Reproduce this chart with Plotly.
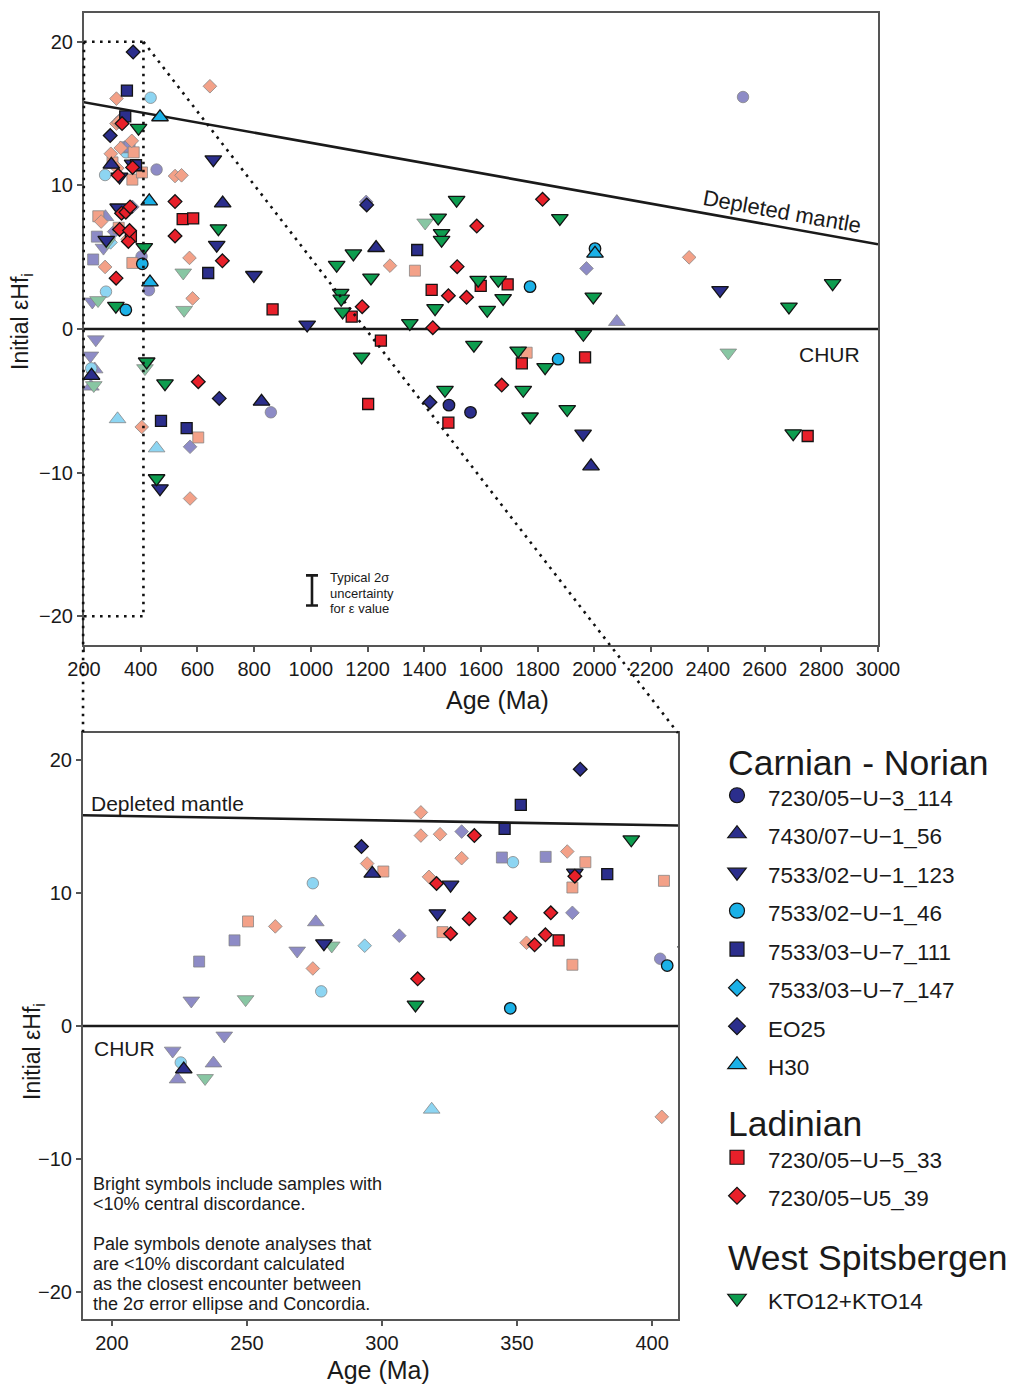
import plotly.graph_objects as go

# ---------------- data (age in Ma, initial eHf) ----------------
u3_114_age = [1487, 1563]
u3_114_eps = [-5.3, -5.8]
u3_114_pale_age = [403, 429, 456, 859, 2524]
u3_114_pale_eps = [5.05, 2.7, 11.1, -5.8, 16.15]

u1_56_age = [226.6, 296.4, 689, 826, 1230, 1988]
u1_56_eps = [-3.25, 11.45, 8.75, -5.05, 5.65, -9.55]
u1_56_pale_age = [224.3, 237.6, 275.5, 2079]
u1_56_pale_eps = [-4.0, -2.8, 7.8, 0.5]

u1_123_age = [278.5, 320.5, 325.4, 371.4, 468, 656, 668, 799, 987, 1960, 2443]
u1_123_eps = [6.2, 8.45, 10.6, 11.5, -11.1, 11.8, 5.85, 3.75, 0.3, -7.3, 2.7]
u1_123_pale_age = [222.5, 229.4, 241.6, 268.6]
u1_123_pale_eps = [-1.86, 1.9, -0.73, 5.65]

u1_46_age = [347.5, 405.6, 1773, 1872, 2002]
u1_46_eps = [1.33, 4.54, 2.95, -2.1, 5.6]
u1_46_pale_age = [225.5, 274.4, 277.5, 348.5, 435]
u1_46_pale_eps = [-2.74, 10.72, 2.6, 12.3, 16.1]

u7_111_age = [345.4, 351.4, 383.4, 471.5, 562, 638, 1375]
u7_111_eps = [14.8, 16.6, 11.4, -6.4, -6.9, 3.9, 5.5]
u7_111_pale_age = [232.3, 245.4, 344.4, 360.6]
u7_111_pale_eps = [4.84, 6.43, 12.65, 12.7]

u7_147_age = []
u7_147_eps = []
u7_147_pale_age = [293.6]
u7_147_pale_eps = [6.03]

eo25_age = [292.4, 373.4, 677, 1197, 1420]
eo25_eps = [13.47, 19.28, -4.83, 8.64, -5.1]
eo25_pale_age = [306.4, 329.5, 370.5, 574, 1195, 1972]
eo25_pale_eps = [6.78, 14.6, 8.5, -8.2, 8.85, 4.22]

h30_age = [430, 432.7, 468, 2002]
h30_eps = [8.9, 3.25, 14.75, 5.25]
h30_pale_age = [318.4, 456]
h30_pale_eps = [-6.27, -8.3]

u5_33_age = [365.4, 548, 585, 865, 1144, 1202, 1247, 1426, 1485, 1599, 1694, 1744, 1967, 2752]
u5_33_eps = [6.43, 7.65, 7.7, 1.37, 0.86, -5.22, -0.81, 2.72, -6.52, 3.0, 3.11, -2.39, -1.97, -7.45]
u5_33_pale_age = [250.4, 300.5, 322.4, 370.5, 370.5, 375.3, 404.4, 603, 1367, 1761]
u5_33_pale_eps = [7.85, 11.6, 7.05, 10.4, 4.6, 12.3, 10.9, -7.55, 4.06, -1.65]

u5_39_age = [313.2, 320.2, 325.4, 332.3, 334.2, 347.5, 356.5, 360.5, 362.5, 371.4, 521, 521,
             603, 688, 1181, 1430, 1485, 1516, 1549, 1585, 1673, 1817]
u5_39_eps = [3.54, 10.7, 6.93, 8.06, 14.3, 8.13, 6.1, 6.85, 8.5, 11.25, 8.87, 6.48,
             -3.67, 4.75, 1.55, 0.09, 2.32, 4.34, 2.21, 7.17, -3.9, 9.03]
u5_39_pale_age = [260.5, 274.4, 294.5, 314.4, 314.4, 317.4, 321.5, 329.5, 353.5, 368.6, 403.6,
                  521, 544, 572, 574, 583, 644, 1279, 2334]
u5_39_pale_eps = [7.48, 4.32, 12.2, 16.04, 14.3, 11.2, 14.4, 12.6, 6.25, 13.1, -6.82,
                  10.65, 10.7, 4.95, -11.8, 2.13, 16.9, 4.41, 4.99]

kto_age = [312.4, 392.3, 412.6, 421, 456, 485.6, 674, 1091, 1105, 1107, 1112, 1150, 1179, 1212,
           1349, 1438, 1449, 1461, 1461, 1473, 1514, 1575, 1590, 1622, 1661, 1678, 1731, 1749,
           1773, 1826, 1878, 1904, 1961, 1996, 2686, 2701, 2840]
kto_eps = [1.6, 14.0, 5.69, -2.27, -10.4, -3.79, 7.0, 4.46, 2.5, 2.1, 1.2, 5.25, -1.93, 3.57,
           0.4, 1.44, 7.75, 6.66, 6.2, -4.25, 8.98, -1.11, 3.41, 1.32, 3.41, 2.14, -1.51, -4.25,
           -6.1, -2.67, 7.71, -5.59, -0.35, 2.25, 1.55, -7.27, 3.18]
kto_pale_age = [234.5, 249.5, 281.4, 415, 550, 553, 1403, 2472]
kto_pale_eps = [-3.92, 2.0, 6.03, -2.74, 3.92, 1.32, 7.4, -1.65]

# reference curves
dm_age = [180, 3000]
dm_eps = [15.86, 5.9]
chur_age = [180, 3000]
chur_eps = [0, 0]

# typical uncertainty bar
unc_age = [1004]
unc_eps = [-18.2]
unc_err = [1.05]

top_xticks = list(range(200, 3001, 200))
bot_xticks = [200, 250, 300, 350, 400]
yticks = [-20, -10, 0, 10, 20]

group_titles = ["Carnian - Norian", "Ladinian", "West Spitsbergen"]
unc_lines = ["Typical 2σ", "uncertainty", "for ε value"]
note_lines = ["Bright symbols include samples with", "&lt;10% central discordance.", "",
              "Pale symbols denote analyses that", "are &lt;10% discordant calculated",
              "as the closest encounter between", "the 2σ error ellipse and Concordia."]

# ---------------- styling ----------------
NAVY, LBLUE, RED, GREEN = "#2b2e8c", "#1bb1e7", "#e8202a", "#0d9d4f"
P_NAVY, P_LBLUE, P_RED, P_GREEN = "#8d8bc6", "#8dd5f2", "#f3a188", "#88c6a3"
FONT = "Liberation Sans, Arial, sans-serif"
INK = "#1a1a1a"
SIZES = {"circle": 11.5, "square": 11, "diamond": 10.5, "triangle-up": 14.5, "triangle-down": 14.5}
LEG_SIZES = {"circle": 15, "square": 14, "diamond": 13, "triangle-up": 16, "triangle-down": 16}

W, H = 1016, 1385
TOP_X = [84 / W, 878 / W]
TOP_Y = [1 - 645 / H, 1 - 13 / H]
BOT_X = [83 / W, 678 / W]
BOT_Y = [1 - 1319 / H, 1 - 733 / H]
TOP_XR = [200, 3000]
BOT_XR = [189.3, 409.6]
YR = [-22, 22]

series = [
    ("7230/05−U−3_114", "legend", "circle", NAVY, P_NAVY,
     u3_114_age, u3_114_eps, u3_114_pale_age, u3_114_pale_eps),
    ("7430/07−U−1_56", "legend", "triangle-up", NAVY, P_NAVY,
     u1_56_age, u1_56_eps, u1_56_pale_age, u1_56_pale_eps),
    ("7533/02−U−1_123", "legend", "triangle-down", NAVY, P_NAVY,
     u1_123_age, u1_123_eps, u1_123_pale_age, u1_123_pale_eps),
    ("7533/02−U−1_46", "legend", "circle", LBLUE, P_LBLUE,
     u1_46_age, u1_46_eps, u1_46_pale_age, u1_46_pale_eps),
    ("7533/03−U−7_111", "legend", "square", NAVY, P_NAVY,
     u7_111_age, u7_111_eps, u7_111_pale_age, u7_111_pale_eps),
    ("7533/03−U−7_147", "legend", "diamond", LBLUE, P_LBLUE,
     u7_147_age, u7_147_eps, u7_147_pale_age, u7_147_pale_eps),
    ("EO25", "legend", "diamond", NAVY, P_NAVY,
     eo25_age, eo25_eps, eo25_pale_age, eo25_pale_eps),
    ("H30", "legend", "triangle-up", LBLUE, P_LBLUE,
     h30_age, h30_eps, h30_pale_age, h30_pale_eps),
    ("7230/05−U−5_33", "legend2", "square", RED, P_RED,
     u5_33_age, u5_33_eps, u5_33_pale_age, u5_33_pale_eps),
    ("7230/05−U5_39", "legend2", "diamond", RED, P_RED,
     u5_39_age, u5_39_eps, u5_39_pale_age, u5_39_pale_eps),
    ("KTO12+KTO14", "legend3", "triangle-down", GREEN, P_GREEN,
     kto_age, kto_eps, kto_pale_age, kto_pale_eps),
]

fig = go.Figure()
panels = [("x", "y"), ("x2", "y2")]

# reference lines
for xa, ya in panels:
    fig.add_trace(go.Scatter(x=chur_age, y=chur_eps, mode="lines", xaxis=xa, yaxis=ya,
                             line=dict(color=INK, width=2.6), showlegend=False, hoverinfo="skip"))
    fig.add_trace(go.Scatter(x=dm_age, y=dm_eps, mode="lines", xaxis=xa, yaxis=ya,
                             line=dict(color=INK, width=2.6), showlegend=False, hoverinfo="skip"))

# pale symbols
for xa, ya in panels:
    for (name, leg, sym, col, pcol, ba, be, pa, pe) in series:
        fig.add_trace(go.Scatter(
            x=pa, y=pe, mode="markers", xaxis=xa, yaxis=ya, showlegend=False,
            marker=dict(symbol=sym, size=SIZES[sym], color=pcol,
                        line=dict(color="rgba(130,130,130,0.75)", width=1)),
            name=name + " (pale)"))

# bright symbols
for xa, ya in panels:
    for (name, leg, sym, col, pcol, ba, be, pa, pe) in series:
        fig.add_trace(go.Scatter(
            x=ba, y=be, mode="markers", xaxis=xa, yaxis=ya, showlegend=False, name=name,
            marker=dict(symbol=sym, size=SIZES[sym], color=col,
                        line=dict(color="#141414", width=1.3))))

# legend entries (symbol keys only)
for (name, leg, sym, col, pcol, ba, be, pa, pe) in series:
    fig.add_trace(go.Scatter(
        x=[None], y=[None], mode="markers", xaxis="x", yaxis="y", showlegend=True, legend=leg,
        name='<span style="font-size:22.5px">' + name + "</span>",
        marker=dict(symbol=sym, size=LEG_SIZES[sym], color=col,
                    line=dict(color="#141414", width=1.2))))

# uncertainty bar
fig.add_trace(go.Scatter(x=unc_age, y=unc_eps, mode="markers", xaxis="x", yaxis="y",
                         marker=dict(size=1, color="rgba(0,0,0,0)"), showlegend=False,
                         error_y=dict(type="data", array=unc_err, width=6, thickness=2.6,
                                      color=INK), hoverinfo="skip"))

# ---------------- axes ----------------
axis_common = dict(showgrid=False, zeroline=False, showline=True, mirror=True,
                   linecolor="#555555", linewidth=2, ticks="outside", ticklen=5,
                   tickcolor="#555555", tickwidth=1.5,
                   tickfont=dict(family=FONT, size=20, color=INK))
fig.update_layout(
    xaxis=dict(domain=TOP_X, range=TOP_XR, tickvals=top_xticks, anchor="y", **axis_common),
    yaxis=dict(domain=TOP_Y, range=YR, tickvals=yticks, anchor="x", **axis_common),
    xaxis2=dict(domain=BOT_X, range=BOT_XR, tickvals=bot_xticks, anchor="y2", **axis_common),
    yaxis2=dict(domain=BOT_Y, range=YR, tickvals=yticks, anchor="x2", **axis_common),
)


def tx(v):  # top-panel data x -> paper
    return TOP_X[0] + (v - TOP_XR[0]) / (TOP_XR[1] - TOP_XR[0]) * (TOP_X[1] - TOP_X[0])


def ty(v):  # top-panel data y -> paper
    return TOP_Y[0] + (v - YR[0]) / (YR[1] - YR[0]) * (TOP_Y[1] - TOP_Y[0])


dot = dict(color="#111111", width=2.6, dash="2.6px,5.4px")
bx0, bx1 = TOP_XR[0], BOT_XR[1]
shapes = [
    dict(type="line", xref="paper", yref="paper", x0=tx(bx0), y0=ty(20), x1=tx(bx1), y1=ty(20), line=dot),
    dict(type="line", xref="paper", yref="paper", x0=tx(bx1), y0=ty(20), x1=tx(bx1), y1=ty(-20), line=dot),
    dict(type="line", xref="paper", yref="paper", x0=tx(bx0), y0=ty(-20), x1=tx(bx1), y1=ty(-20), line=dot),
    dict(type="line", xref="paper", yref="paper", x0=tx(bx0), y0=ty(20), x1=BOT_X[0], y1=BOT_Y[1], line=dot),
    dict(type="line", xref="paper", yref="paper", x0=tx(bx1), y0=ty(20), x1=BOT_X[1], y1=BOT_Y[1], line=dot),
]

ann = []
def A(size=20, **k):
    base = dict(showarrow=False, xanchor="center", yanchor="middle",
                font=dict(family=FONT, size=size, color=INK))
    base.update(k)
    ann.append(base)

A(text="Depleted mantle", x=2661, y=8.2, xref="x", yref="y", textangle=10.2, size=22)
A(text="CHUR", x=2830, y=-1.8, xref="x", yref="y", size=21)
for i, line in enumerate(unc_lines):
    A(text=line, x=328 / W, y=1 - (578 + 15 * i) / H, xref="paper", yref="paper",
      xanchor="left", size=13)
A(text="Depleted mantle", x=191.5, y=16.7, xref="x2", yref="y2", xanchor="left", size=21)
A(text="CHUR", x=192.6, y=-1.66, xref="x2", yref="y2", xanchor="left", size=21)
for i, line in enumerate(note_lines):
    if line:
        A(text=line, x=91 / W, y=1 - (1184 + 20 * i) / H, xref="paper", yref="paper",
          xanchor="left", size=18)
A(text="Age (Ma)", x=497 / W, y=1 - 700 / H, xref="paper", yref="paper", size=25)
A(text="Age (Ma)", x=378 / W, y=1 - 1370 / H, xref="paper", yref="paper", size=25)
A(text="Initial εHf<sub>i</sub>", x=22 / W, y=1 - 322 / H, xref="paper", yref="paper", textangle=-90, size=23)
A(text="Initial εHf<sub>i</sub>", x=33 / W, y=1 - 1052 / H, xref="paper", yref="paper", textangle=-90, size=23)
# legend group headings
for title, yc in zip(group_titles, [763, 1124, 1258]):
    A(text=title, x=726 / W, y=1 - yc / H, xref="paper", yref="paper", xanchor="left", size=35.5)

leg_common = dict(xanchor="left", yanchor="top", bgcolor="rgba(0,0,0,0)", itemwidth=52,
                  font=dict(family=FONT, size=27.3, color=INK))
fig.update_layout(
    width=W, height=H, margin=dict(l=0, r=0, t=0, b=0, autoexpand=False),
    paper_bgcolor="white", plot_bgcolor="white",
    shapes=shapes, annotations=ann,
    legend=dict(x=706 / W, y=1 - 771 / H, **leg_common),
    legend2=dict(x=706 / W, y=1 - 1133 / H, **leg_common),
    legend3=dict(x=706 / W, y=1 - 1274 / H, **leg_common),
    font=dict(family=FONT),
)

fig.write_html("out.html")
